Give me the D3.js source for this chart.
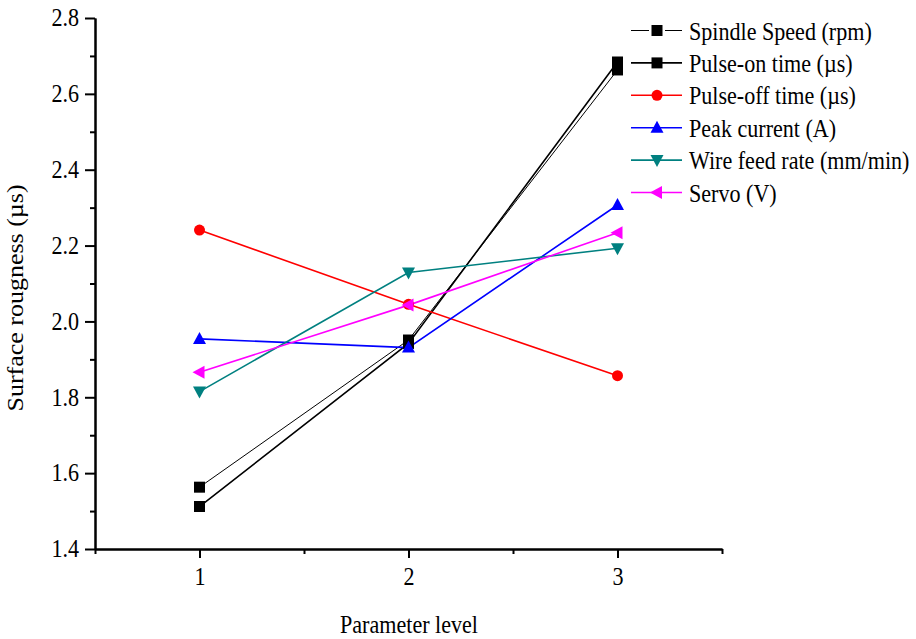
<!DOCTYPE html>
<html>
<head>
<meta charset="utf-8">
<script src="https://cdn.jsdelivr.net/npm/d3@7"></script>
<style>
  body { margin: 0; background: #fff; }
  svg text { font-family: "Liberation Serif", "Times New Roman", serif; fill: #000; }
</style>
</head>
<body>
<svg id="chart" width="916" height="639"></svg>
<script>
const levels = [1, 2, 3];
const seriesNames = ["Spindle Speed (rpm)", "Pulse-on time (\u00b5s)", "Pulse-off time (\u00b5s)",
  "Peak current (A)", "Wire feed rate (mm/min)", "Servo (V)"];
const spindleSpeed = [1.563, 1.951, 2.663];
const pulseOn = [1.512, 1.942, 2.684];
const pulseOff = [2.241, 2.045, 1.857];
const peakCurrent = [1.954, 1.931, 2.307];
const wireFeed = [1.815, 2.129, 2.193];
const servo = [1.866, 2.043, 2.234];
const yTicks = [1.4, 1.6, 1.8, 2.0, 2.2, 2.4, 2.6, 2.8];
const yMinorTicks = [1.5, 1.7, 1.9, 2.1, 2.3, 2.5, 2.7];
const xTicks = [1, 2, 3];
const xMinorTicks = [0.5, 1.5, 2.5, 3.5];

const series = [
  { name: seriesNames[0], values: spindleSpeed, color: "#000", width: 1, symbol: "square" },
  { name: seriesNames[1], values: pulseOn, color: "#000", width: 1.6, symbol: "square" },
  { name: seriesNames[2], values: pulseOff, color: "#ff0000", width: 1.6, symbol: "circle" },
  { name: seriesNames[3], values: peakCurrent, color: "#0000ff", width: 1.6, symbol: "up" },
  { name: seriesNames[4], values: wireFeed, color: "#008080", width: 1.6, symbol: "down" },
  { name: seriesNames[5], values: servo, color: "#ff00ff", width: 1.6, symbol: "left" }
];

const svg = d3.select("#chart");
const margin = { top: 18, right: 194, bottom: 90, left: 95 };
const width = 916, height = 639;
const sx = 0.85; // text in the reference is horizontally condensed
const fs = 26;

const x = d3.scaleLinear().domain([0.5, 3.5]).range([margin.left, width - margin.right]);
const y = d3.scaleLinear().domain([1.4, 2.8]).range([height - margin.bottom, margin.top]);

// axes
const yAxis = svg.append("g").attr("transform", `translate(${margin.left},0)`)
  .call(d3.axisLeft(y).tickValues(yTicks).tickFormat(d3.format(".1f")).tickSize(10).tickSizeOuter(0));
const yMinor = svg.append("g").attr("transform", `translate(${margin.left},0)`)
  .call(d3.axisLeft(y).tickValues(yMinorTicks).tickFormat("").tickSize(5).tickSizeOuter(0));
const xAxis = svg.append("g").attr("transform", `translate(0,${height - margin.bottom})`)
  .call(d3.axisBottom(x).tickValues(xTicks).tickFormat(d3.format("d")).tickSize(9).tickSizeOuter(0));
const xMinor = svg.append("g").attr("transform", `translate(0,${height - margin.bottom})`)
  .call(d3.axisBottom(x).tickValues(xMinorTicks).tickFormat("").tickSize(5).tickSizeOuter(0));

[yAxis, yMinor, xAxis, xMinor].forEach(g => {
  g.select(".domain").attr("stroke", "#000").attr("stroke-width", 2);
  g.selectAll(".tick line").attr("stroke", "#000").attr("stroke-width", 2);
  g.selectAll(".tick text").attr("font-size", fs);
});
yAxis.selectAll(".tick text")
  .attr("transform", `scale(${sx},1)`).attr("x", -16 / sx).attr("dy", "0.3em");
xAxis.selectAll(".tick text")
  .attr("transform", `scale(${sx},1)`).attr("y", 36).attr("dy", 0);

svg.append("text")
  .attr("transform", `translate(23,298) rotate(-90) scale(1,${sx})`)
  .attr("text-anchor", "middle").attr("font-size", fs).text("Surface rougness (\u00b5s)");
svg.append("text")
  .attr("transform", `translate(409,633) scale(${sx},1)`)
  .attr("text-anchor", "middle").attr("font-size", fs).text("Parameter level");

function symbolPath(sym) {
  switch (sym) {
    case "square": return "M-5.5,-5.5H5.5V5.5H-5.5Z";
    case "circle": return d3.symbol(d3.symbolCircle, 95)();
    case "up": return "M0,-7L6.5,5H-6.5Z";
    case "down": return "M0,7L6.5,-5H-6.5Z";
    case "left": return "M-7,0L5,-6.5V6.5Z";
  }
}

const line = d3.line().x((d, i) => x(levels[i])).y(d => y(d));

const plot = svg.append("g");
series.forEach(s => {
  plot.append("path").datum(s.values).attr("d", line)
    .attr("fill", "none").attr("stroke", s.color).attr("stroke-width", s.width);
});
series.forEach(s => {
  plot.selectAll(null).data(s.values).join("path")
    .attr("transform", (d, i) => `translate(${x(levels[i])},${y(d)})`)
    .attr("d", symbolPath(s.symbol)).attr("fill", s.color);
});

// legend
const legend = svg.append("g").attr("transform", "translate(631,30.5)");
series.forEach((s, i) => {
  const g = legend.append("g").attr("transform", `translate(0,${i * 32.4})`);
  if (i === 0) {
    g.append("line").attr("x1", 0).attr("x2", 18).attr("stroke", s.color).attr("stroke-width", s.width);
    g.append("line").attr("x1", 34).attr("x2", 51).attr("stroke", s.color).attr("stroke-width", s.width);
  } else {
    g.append("line").attr("x1", 0).attr("x2", 51).attr("stroke", s.color).attr("stroke-width", s.width);
  }
  g.append("path").attr("transform", "translate(26,0)").attr("d", symbolPath(s.symbol)).attr("fill", s.color);
  g.append("text").attr("transform", `translate(58,9) scale(${sx},1)`)
    .attr("font-size", fs).text(s.name);
});
</script>
</body>
</html>
